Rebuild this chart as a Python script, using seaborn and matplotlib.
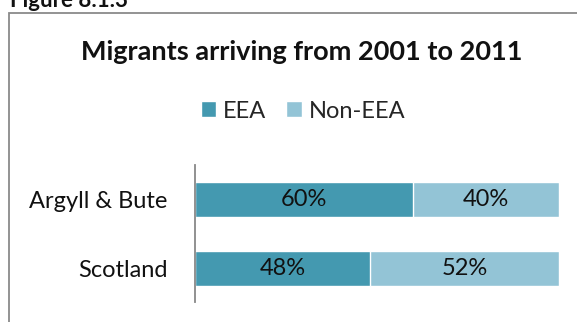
import matplotlib
matplotlib.use("Agg")
import matplotlib.pyplot as plt
import seaborn as sns
import pandas as pd
from matplotlib.patches import Rectangle, Patch

areas = ["Argyll & Bute", "Scotland"]
eea = [60, 48]
non_eea = [40, 52]
series_names = ["EEA", "Non-EEA"]

dark = "#4499B0"
light = "#93C4D6"
ink = "#111111"

sns.set_theme(style="white")
plt.rcParams["font.family"] = ["Lato", "DejaVu Sans"]

df = pd.DataFrame({"area": areas, "EEA": eea, "Non-EEA": non_eea})
df["total"] = df["EEA"] + df["Non-EEA"]

W, H = 577, 322
fig = plt.figure(figsize=(W / 100, H / 100), dpi=100)
ax = fig.add_axes([195 / W, 1 - 302 / H, (559 - 195) / W, (302 - 165) / H])

# stacked horizontal bars: full length in the light colour, EEA share on top
sns.barplot(data=df, x="total", y="area", orient="h", color=light,
            width=0.51, saturation=1, ax=ax)
sns.barplot(data=df, x="EEA", y="area", orient="h", color=dark,
            width=0.51, saturation=1, ax=ax)

for i, (a, b) in enumerate(zip(eea, non_eea)):
    ax.text(a / 2, i, f"{a}%", ha="center", va="center", fontsize=17, color=ink)
    ax.text(a + b / 2, i, f"{b}%", ha="center", va="center", fontsize=17, color=ink)

ax.set_xlim(0, 100)
ax.set_ylim(1.49, -0.508)
ax.set_xlabel("")
ax.set_ylabel("")
ax.set_xticks([])
ax.tick_params(axis="y", length=0, pad=20, labelsize=17, labelcolor=ink)
for s in ["top", "right", "bottom"]:
    ax.spines[s].set_visible(False)
ax.spines["left"].set_color("#888888")
ax.spines["left"].set_linewidth(1.3)

# chart frame
fig.patches.append(Rectangle((9 / W, -0.1), 1.2, 1 - 13 / H + 0.1,
                             transform=fig.transFigure, fill=False,
                             edgecolor="#8a8a8a", linewidth=1.3))

fig.text(10 / W, 1 - 7 / H, "Figure 8.1.3", ha="left", va="baseline",
         fontsize=16, fontweight="bold", color=ink)
fig.text(302 / W, 1 - 60 / H, "Migrants arriving from 2001 to 2011",
         ha="center", va="baseline", fontsize=19.5, fontweight="bold", color=ink)

# legend
handles = [Patch(facecolor=dark), Patch(facecolor=light)]
fig.legend(handles, series_names, loc="center", bbox_to_anchor=(303 / W, 1 - 111 / H),
           ncol=2, frameon=False, fontsize=17, handlelength=0.65, handleheight=0.65,
           handletextpad=0.3, columnspacing=0.85, borderaxespad=0, borderpad=0)

fig.savefig("out.png", dpi=100)
